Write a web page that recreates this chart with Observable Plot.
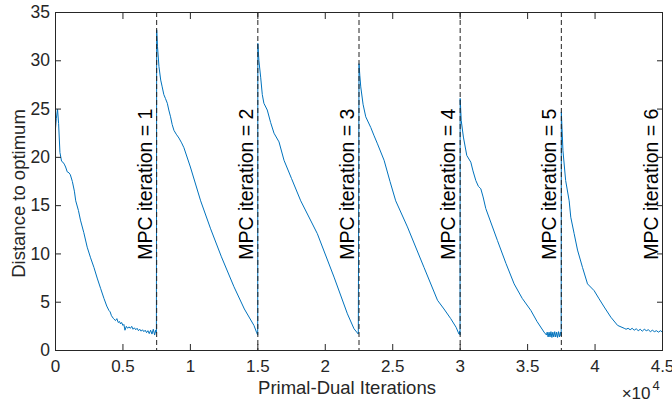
<!DOCTYPE html>
<html>
<head>
<meta charset="utf-8">
<script src="https://cdn.jsdelivr.net/npm/d3@7"></script>
<script src="https://cdn.jsdelivr.net/npm/@observablehq/plot@0.6"></script>
<style>
  html, body { margin: 0; padding: 0; background: #fff; }
  #chart svg { display: block; overflow: visible; }
</style>
</head>
<body>
<div id="chart"></div>
<script>
// ---- data ----
const iterations = [
  // MPC iteration 1
  0, 60, 150, 230, 330, 450, 550, 650, 750, 870, 1000, 1100, 1250, 1400, 1500, 1700, 1850, 2100, 2350, 2600, 2850, 3090, 3350, 3590, 3800, 3960, 4050, 4150, 4300,
  4450, 4550, 4650, 4750, 4820, 4900, 5000, 5070, 5150, 5250, 5350, 5440, 5550, 5650, 5750, 5850, 5950, 6050, 6150, 6250, 6350, 6450, 6550, 6650, 6750, 6850, 6950, 7050, 7150, 7250, 7350, 7420, 7480,
  // MPC iteration 2
  7500, 7560, 7670, 7800, 7910, 8030, 8150, 8290, 8400, 8530, 8650, 8780, 8950, 9150, 9350, 9520, 10000, 10760, 11500, 12300, 13230, 14000, 14710, 14900, 14990,
  // MPC iteration 3
  15000, 15080, 15210, 15330, 15450, 15700, 15950, 16200, 16570, 16940, 17500, 18180, 19410, 20650, 21640, 22130, 22450,
  // MPC iteration 4
  22500, 22560, 22630, 22800, 23000, 23370, 23600, 23870, 24360, 24800, 25220, 26090, 27320, 28320, 28800, 29300, 29700, 29850, 29920, 29960, 29990,
  // MPC iteration 5
  30000, 30080, 30240, 30490, 30790, 30950, 31160, 31350, 31530, 31700, 31900, 32760, 33400, 34000, 34600, 35240, 35700, 36220, 36400,
  36450, 36520, 36590, 36660, 36730, 36800, 36870, 36940, 37010, 37080, 37150, 37220, 37290, 37360, 37430, 37490,
  // MPC iteration 6
  37500, 37620, 37820, 38080, 38200, 38450, 38700, 39070, 39440, 39930, 40300, 40680, 41170, 41670, 42160,
  42300, 42450, 42600, 42750, 42900, 43050, 43200, 43350, 43500, 43650, 43800, 43950, 44100, 44250, 44400, 44550, 44700, 44850, 45000
];
const distance = [
  // MPC iteration 1
  23.0, 24.0, 25.0, 23.5, 20.5, 19.6, 19.5, 19.3, 19.0, 18.5, 18.4, 18.2, 17.5, 16.5, 15.5, 14.5, 13.5, 12.2, 10.7, 9.6, 8.6, 7.5, 6.4, 5.4, 4.6, 4.15, 4.0, 3.6, 3.3,
  3.1, 3.3, 2.9, 3.0, 2.75, 2.9, 2.6, 2.7, 2.1, 2.5, 2.3, 2.45, 2.3, 2.5, 2.2, 2.35, 2.15, 2.3, 2.05, 2.2, 2.0, 2.15, 1.95, 2.1, 1.85, 2.05, 1.75, 2.1, 1.7, 2.2, 1.6, 2.1, 1.8,
  // MPC iteration 2
  33.2, 31.5, 29.4, 28.0, 27.3, 26.5, 26.1, 25.6, 24.9, 24.2, 23.4, 22.8, 22.4, 22.0, 21.5, 21.0, 19.0, 15.5, 12.6, 9.7, 6.6, 4.3, 2.6, 1.9, 1.6,
  // MPC iteration 3
  31.8, 30.0, 28.3, 26.5, 25.6, 24.9, 23.6, 22.5, 21.6, 19.7, 17.8, 15.5, 12.1, 7.6, 3.8, 2.25, 1.7,
  // MPC iteration 4
  29.7, 28.5, 27.3, 25.5, 24.2, 23.1, 22.3, 21.4, 19.7, 17.5, 15.5, 12.8, 8.6, 5.2, 4.3, 3.3, 2.4, 1.9, 1.7, 2.0, 1.6,
  // MPC iteration 5
  26.1, 23.8, 22.1, 20.2, 19.5, 18.6, 17.6, 17.0, 16.75, 15.9, 14.7, 11.4, 9.0, 6.9, 5.4, 4.15, 3.0, 1.9, 1.6,
  1.9, 1.4, 1.9, 1.4, 1.95, 1.35, 1.9, 1.4, 1.95, 1.4, 1.9, 1.35, 1.95, 1.4, 1.9, 1.5,
  // MPC iteration 6
  24.7, 20.7, 17.6, 15.5, 13.8, 12.1, 10.4, 8.6, 6.9, 6.2, 5.35, 4.5, 3.45, 2.6, 2.3,
  2.2, 2.3, 2.15, 2.3, 2.1, 2.25, 2.05, 2.2, 2.0, 2.2, 2.05, 2.15, 1.95, 2.1, 1.95, 2.05, 1.9, 2.05, 1.9
];
const mpcIterations = [1, 2, 3, 4, 5, 6];
const itersPerMpc = 7500;
const boundaries = [7500, 15000, 22500, 30000, 37500];
const xTicks = [0, 5000, 10000, 15000, 20000, 25000, 30000, 35000, 40000, 45000];
const xTickLabels = ["0", "0.5", "1", "1.5", "2", "2.5", "3", "3.5", "4", "4.5"];
const yTicks = [0, 5, 10, 15, 20, 25, 30, 35];
const labelBaseY = 9.4;

// ---- build ----
const points = iterations.map((x, i) => ({x, y: distance[i]}));
const labels = mpcIterations.map(k => ({x: k * itersPerMpc, text: `MPC iteration = ${k}`}));

const axisColor = "#262626";
const font = "'Liberation Sans', Arial, Helvetica, sans-serif";

const chart = Plot.plot({
  width: 672,
  height: 401,
  marginLeft: 55,
  marginRight: 10,
  marginTop: 12,
  marginBottom: 51,
  style: {fontFamily: font, fontSize: "17px", color: axisColor, background: "#fff", overflow: "visible"},
  x: {domain: [0, 45000]},
  y: {domain: [0, 35]},
  marks: [
    Plot.line(points, {x: "x", y: "y", stroke: "#0072BD", strokeWidth: 1}),
    Plot.ruleX(boundaries, {stroke: "#222", strokeWidth: 1, strokeDasharray: "5,3"}),
    Plot.text(labels, {x: "x", y: labelBaseY, text: "text", rotate: -90, textAnchor: "start", lineAnchor: "bottom", dx: -5, fontSize: 19.5, fill: "#000"}),
    Plot.frame({stroke: axisColor, strokeWidth: 1}),
    Plot.axisX({anchor: "bottom", ticks: xTicks, tickSize: -6, tickPadding: 15, tickFormat: d => xTickLabels[xTicks.indexOf(d)], label: null, fontSize: 17}),
    Plot.axisX({anchor: "top", ticks: xTicks, tickSize: -6, tickFormat: () => "", label: null}),
    Plot.axisY({anchor: "left", ticks: yTicks, tickSize: -6, tickPadding: 11.5, tickFormat: d => String(d), label: null, fontSize: 17.5}),
    Plot.axisY({anchor: "right", ticks: yTicks, tickSize: -6, tickFormat: () => "", label: null}),
    Plot.text(["Primal-Dual Iterations"], {frameAnchor: "bottom", lineAnchor: "top", dy: 30, dx: -12, fontSize: 18.5, fill: axisColor}),
    Plot.text(["Distance to optimum"], {frameAnchor: "left", rotate: -90, textAnchor: "middle", lineAnchor: "bottom", dx: -31, dy: 12, fontSize: 18.5, fill: axisColor}),
    Plot.text(["\u00d710"], {frameAnchor: "bottom-right", textAnchor: "end", lineAnchor: "bottom", dx: -12, dy: 48, fontSize: 17, fill: axisColor}),
    Plot.text(["4"], {frameAnchor: "bottom-right", textAnchor: "start", lineAnchor: "bottom", dx: -10, dy: 39, fontSize: 13, fill: axisColor})
  ]
});
document.getElementById("chart").appendChild(chart);
</script>
</body>
</html>
